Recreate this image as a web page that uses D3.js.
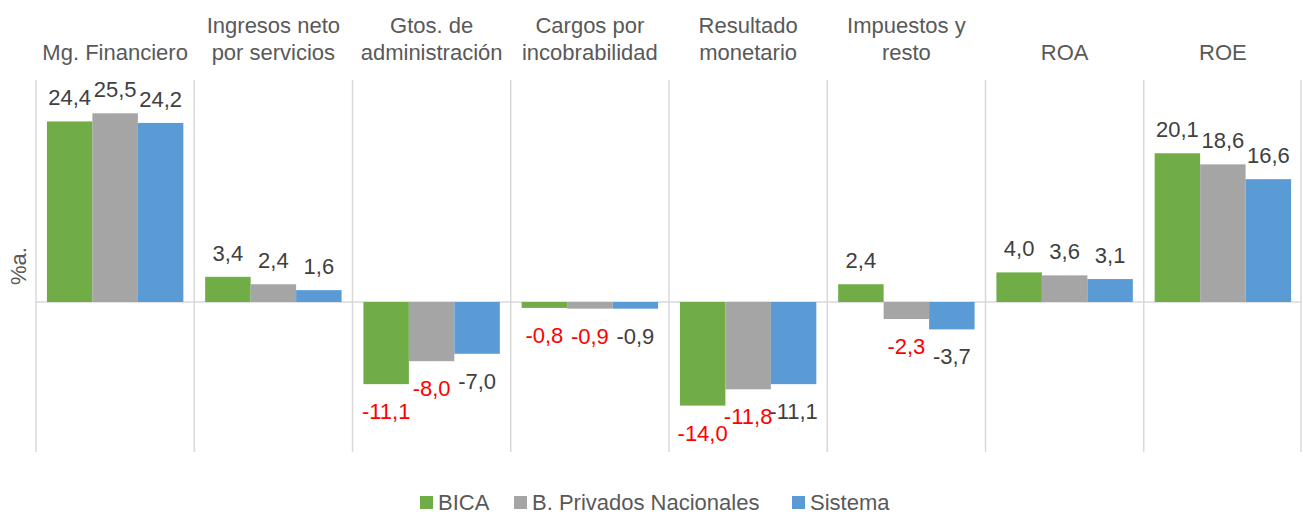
<!DOCTYPE html>
<html>
<head>
<meta charset="utf-8">
<script src="https://cdn.jsdelivr.net/npm/d3@7"></script>
<style>
  body { margin: 0; background: #fff; }
  svg { display: block; font-family: "Liberation Sans", Arial, sans-serif; }
</style>
</head>
<body>
<svg></svg>
<script>
const categories = [
  ["Mg. Financiero"],
  ["Ingresos neto", "por servicios"],
  ["Gtos. de", "administración"],
  ["Cargos por", "incobrabilidad"],
  ["Resultado", "monetario"],
  ["Impuestos y", "resto"],
  ["ROA"],
  ["ROE"]
];
const seriesNames = ["BICA", "B. Privados Nacionales", "Sistema"];
const bica = [24.4, 3.4, -11.1, -0.8, -14.0, 2.4, 4.0, 20.1];
const privados = [25.5, 2.4, -8.0, -0.9, -11.8, -2.3, 3.6, 18.6];
const sistema = [24.2, 1.6, -7.0, -0.9, -11.1, -3.7, 3.1, 16.6];
const colors = ["#70ad47", "#a5a5a5", "#5b9bd5"];

const width = 1303, height = 514;
const margin = { top: 80, right: 1, bottom: 64, left: 36 };

const svg = d3.select("svg")
  .attr("width", width)
  .attr("height", height);

const seriesValues = [bica, privados, sistema];
const keys = categories.map((c, i) => "c" + i);

const x = d3.scaleBand()
  .domain(keys)
  .range([margin.left, width - margin.right])
  .padding(0);

const xs = d3.scaleBand()
  .domain(seriesNames)
  .range([0, x.bandwidth()])
  .paddingInner(0)
  .paddingOuter(0.24);

const y = d3.scaleLinear()
  .domain([-20, 30])
  .range([height - margin.bottom, margin.top]);

// vertical separators
const bounds = keys.map(k => x(k)).concat([x(keys[keys.length - 1]) + x.bandwidth() - 1]);
svg.append("g")
  .selectAll("line")
  .data(bounds)
  .join("line")
  .attr("x1", d => d).attr("x2", d => d)
  .attr("y1", margin.top).attr("y2", y(-20) + 2)
  .attr("stroke", "#d9d9d9")
  .attr("stroke-width", 1.5);

// zero line
svg.append("line")
  .attr("x1", margin.left).attr("x2", width - margin.right)
  .attr("y1", y(0)).attr("y2", y(0))
  .attr("stroke", "#d9d9d9")
  .attr("stroke-width", 1.5);

// category titles
const titles = svg.append("g")
  .selectAll("text")
  .data(categories)
  .join("text")
  .attr("x", (d, i) => x(keys[i]) + x.bandwidth() / 2)
  .attr("text-anchor", "middle")
  .attr("fill", "#595959")
  .style("font-size", "22px");
titles.each(function(d) {
  const t = d3.select(this);
  d.forEach((line, j) => {
    t.append("tspan")
      .attr("x", t.attr("x"))
      .attr("y", 60 - (d.length - 1 - j) * 27)
      .text(line);
  });
});

// bars
const rows = [];
seriesValues.forEach((vals, s) => {
  vals.forEach((v, i) => rows.push({ s, i, v, name: seriesNames[s] }));
});

svg.append("g")
  .selectAll("rect")
  .data(rows)
  .join("rect")
  .attr("x", d => x(keys[d.i]) + xs(d.name))
  .attr("y", d => y(Math.max(0, d.v)))
  .attr("width", xs.bandwidth())
  .attr("height", d => Math.abs(y(d.v) - y(0)))
  .attr("fill", d => colors[d.s]);

// value labels
const fmt = v => v.toFixed(1).replace(".", ",");
svg.append("g")
  .selectAll("text")
  .data(rows)
  .join("text")
  .attr("x", d => x(keys[d.i]) + xs(d.name) + xs.bandwidth() / 2)
  .attr("y", d => d.v >= 0 ? y(d.v) - 16 : y(d.v) + 35)
  .attr("text-anchor", "middle")
  .attr("fill", d => (d.v < 0 && d.s < 2) ? "#ff0000" : "#404040")
  .style("font-size", "22px")
  .text(d => fmt(d.v));

// y label
svg.append("text")
  .attr("transform", `translate(26,${266}) rotate(-90)`)
  .attr("text-anchor", "middle")
  .attr("fill", "#595959")
  .style("font-size", "22px")
  .text("%a.");

// legend
const legendX = [420, 514, 792];
const legend = svg.append("g")
  .selectAll("g")
  .data(seriesNames)
  .join("g")
  .attr("transform", (d, i) => `translate(${legendX[i]},496)`);
legend.append("rect")
  .attr("width", 13).attr("height", 13)
  .attr("fill", (d, i) => colors[i]);
legend.append("text")
  .attr("x", 18).attr("y", 14)
  .attr("fill", "#595959")
  .style("font-size", "22px")
  .text(d => d);
</script>
</body>
</html>
